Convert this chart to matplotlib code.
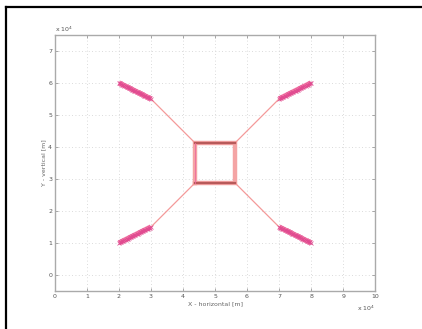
import matplotlib
matplotlib.use("Agg")
import matplotlib.pyplot as plt
import numpy as np
from matplotlib.lines import Line2D

# data (units of 10^4 m)
square_x = [4.375, 5.625, 5.625, 4.375, 4.375]
square_y = [2.875, 2.875, 4.125, 4.125, 2.875]
corner_x = [4.375, 5.625, 4.375, 5.625]
corner_y = [4.125, 4.125, 2.875, 2.875]
knee_x = [3.0, 7.0, 3.0, 7.0]
knee_y = [5.5, 5.5, 1.5, 1.5]
end_x = [2.0, 8.0, 2.0, 8.0]
end_y = [6.0, 6.0, 1.0, 1.0]
xticks = [0, 1, 2, 3, 4, 5, 6, 7, 8, 9, 10]
yticks = [0, 1, 2, 3, 4, 5, 6, 7]
xlabel = "X - horizontal [m]"
ylabel = "Y - vertical [m]"

fig = plt.figure(figsize=(4.22, 3.29), dpi=100)
fig.patch.set_facecolor("white")
ax = fig.add_axes([0.130, 0.1155, 0.759, 0.7785])

# arms
for cx, cy, kx, ky, ex, ey in zip(corner_x, corner_y, knee_x, knee_y, end_x, end_y):
    ax.plot([cx, kx], [cy, ky], color="#f49a9a", lw=0.9, zorder=3)
    ax.plot([kx, ex], [ky, ey], color="#f27aa6", lw=3.8, solid_capstyle="butt", zorder=3)
    ax.plot(np.linspace(kx, ex, 30), np.linspace(ky, ey, 30), ls="none", marker="x",
            ms=2.2, mew=0.5, color="#e04a90", zorder=4)

# square
ax.plot(square_x, square_y, color="#f4a4a4", lw=3.2, zorder=2, solid_joinstyle="miter")
ax.plot([square_x[0], square_x[1]], [square_y[0], square_y[1]], color="#b85a5a", lw=1.6, zorder=3)
ax.plot([square_x[2], square_x[3]], [square_y[2], square_y[3]], color="#b85a5a", lw=1.6, zorder=3)
ax.plot([square_x[3], square_x[0]], [square_y[3], square_y[0]], color="#ee6aa0", lw=0.6, zorder=3)

ax.set_xlim(0, 10)
ax.set_ylim(-0.5, 7.5)
ax.set_xticks(xticks)
ax.set_yticks(yticks)

ax.grid(which="major", color="#cfcfcf", ls=(0, (1, 3)), lw=0.6)
ax.tick_params(which="both", direction="in", top=True, right=True, length=2.5,
               width=0.6, color="#999999", labelsize=4.5, labelcolor="#555555", pad=2)
ax.tick_params(axis="x", labeltop=False)
ax.tick_params(axis="y", labelright=False)
for s in ax.spines.values():
    s.set_color("#aaaaaa")
    s.set_linewidth(1.0)

ax.set_xlabel(xlabel, fontsize=4.5, color="#666666", labelpad=2)
ax.set_ylabel(ylabel, fontsize=4.5, color="#666666", labelpad=1.5)

# exponent labels
ax.text(0.0, 1.005, r"x 10$^4$", transform=ax.transAxes, fontsize=4.5, color="#555555",
        ha="left", va="bottom")
ax.text(1.0, -0.066, r"x 10$^4$", transform=ax.transAxes, fontsize=4.5, color="#555555",
        ha="right", va="center")

# window frame lines (top and left)
fig.add_artist(Line2D([6/422, 6/422], [0, 1-7/329], transform=fig.transFigure, color="black", lw=1.6))
fig.add_artist(Line2D([6/422, 1], [1-7/329, 1-7/329], transform=fig.transFigure, color="black", lw=1.6))

fig.savefig("out.png", dpi=100)
